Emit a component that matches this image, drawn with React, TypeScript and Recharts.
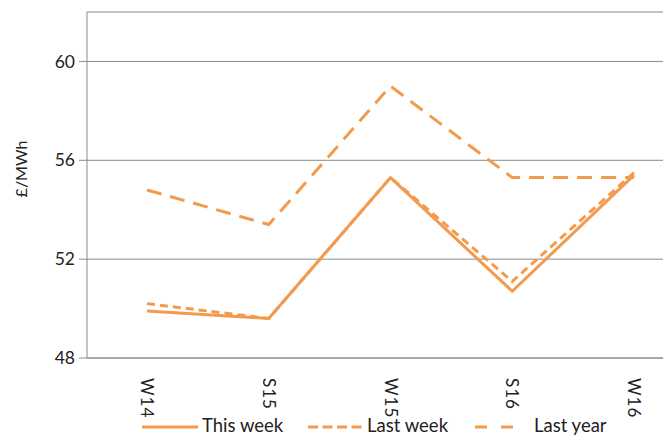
import React from "react";
import {
  LineChart,
  Line,
  XAxis,
  YAxis,
  CartesianGrid,
  Legend,
  Label,
} from "recharts";

const categories = ["W14", "S15", "W15", "S16", "W16"];
const thisWeek = [49.9, 49.6, 55.3, 50.7, 55.4];
const lastWeek = [50.2, 49.6, 55.3, 51.1, 55.5];
const lastYear = [54.8, 53.4, 59.0, 55.3, 55.3];
const yTicks = [48, 52, 56, 60];

const ORANGE = "#f39a4d";
const FONT = "Lato, 'Open Sans', sans-serif";

const data = categories.map((name, i) => ({
  name,
  thisWeek: thisWeek[i],
  lastWeek: lastWeek[i],
  lastYear: lastYear[i],
}));

const legendItems = [
  { label: "This week", dash: undefined, x1: 142, x2: 198, tx: 202 },
  { label: "Last week", dash: "10 4.5", x1: 308, x2: 364, tx: 367 },
  { label: "Last year", dash: "12 14", x1: 475, x2: 513, tx: 534 },
];

const XTick = (props: any) => {
  const { x, y, payload } = props;
  return (
    <text
      transform={`translate(${x},${y + 12}) rotate(90)`}
      textAnchor="start"
      dy="0.35em"
      fill="#222"
      fontSize={17}
      letterSpacing={1}
      fontFamily={FONT}
    >
      {payload.value}
    </text>
  );
};

const ChartLegend = () => (
  <svg width={663} height={30} style={{ display: "block" }}>
    {legendItems.map((it) => (
      <g key={it.label}>
        <line
          x1={it.x1}
          x2={it.x2}
          y1={21}
          y2={21}
          stroke={ORANGE}
          strokeWidth={3}
          strokeDasharray={it.dash}
        />
        <text x={it.tx} y={26} fontSize={18.5} fontFamily={FONT} fill="#222">
          {it.label}
        </text>
      </g>
    ))}
  </svg>
);

export default function App() {
  return (
    <div style={{ position: "absolute", left: 0, top: 0, background: "#fff" }}>
      <LineChart
        width={663}
        height={436}
        data={data}
        margin={{ top: 12, right: 0, left: 0, bottom: 0 }}
      >
        <CartesianGrid vertical={false} stroke="#8a8a8a" />
        <XAxis
          dataKey="name"
          padding={{ left: 60, right: 29 }}
          tick={<XTick />}
          tickLine={false}
          axisLine={{ stroke: "#8a8a8a" }}
          interval={0}
          height={48}
        />
        <YAxis
          domain={[48, 62]}
          ticks={yTicks}
          width={87}
          tickSize={8}
          tickMargin={4}
          tickLine={{ stroke: "#8a8a8a" }}
          axisLine={{ stroke: "#8a8a8a" }}
          tick={{ fill: "#222", fontSize: 17.5, fontFamily: FONT }}
        >
          <Label
            content={(p: any) => {
              const vb = p.viewBox;
              const cx = 21;
              const cy = vb.y + vb.height / 2 - 16;
              return (
                <text
                  x={cx}
                  y={cy}
                  transform={`rotate(-90, ${cx}, ${cy})`}
                  textAnchor="middle"
                  dy="0.35em"
                  fontSize={16}
                  fontFamily={FONT}
                  fill="#222"
                >
                  £/MWh
                </text>
              );
            }}
          />
        </YAxis>
        <Legend verticalAlign="bottom" height={30} content={<ChartLegend />} />
        <Line
          dataKey="lastYear"
          stroke={ORANGE}
          strokeWidth={3}
          strokeDasharray="15 9"
          dot={false}
          isAnimationActive={false}
        />
        <Line
          dataKey="lastWeek"
          stroke={ORANGE}
          strokeWidth={3}
          strokeDasharray="8 5"
          dot={false}
          isAnimationActive={false}
        />
        <Line
          dataKey="thisWeek"
          stroke={ORANGE}
          strokeWidth={3}
          dot={false}
          isAnimationActive={false}
        />
      </LineChart>
    </div>
  );
}
